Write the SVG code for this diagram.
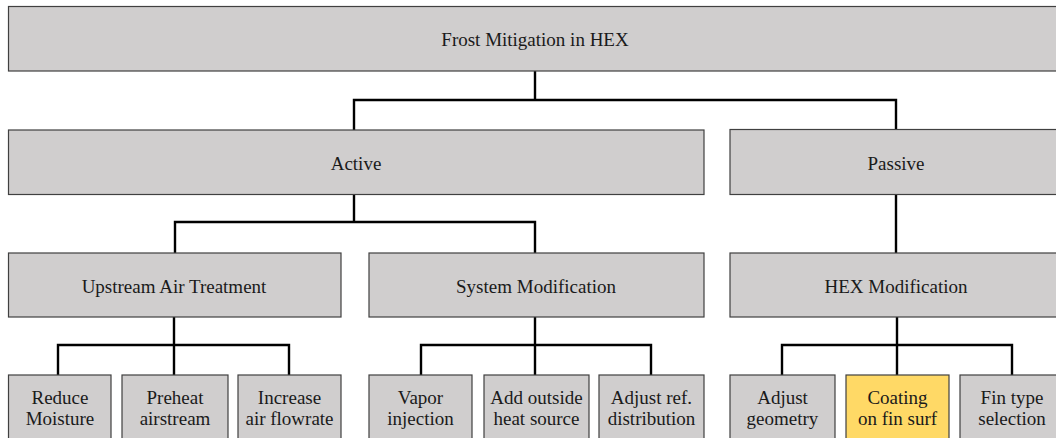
<svg xmlns="http://www.w3.org/2000/svg" width="1056" height="438" viewBox="0 0 1056 438">
<style>
.box{fill:#D0CECE;stroke:#404040;stroke-width:1.2}
.hl{fill:#FFD966;stroke:#404040;stroke-width:1.2}
.t{font-family:"Liberation Serif","Times New Roman",serif;font-size:19px;fill:#1a1a1a;text-anchor:middle}
.c{fill:none;stroke:#000;stroke-width:2.4;stroke-linejoin:miter;stroke-linecap:square}
</style>
<rect width="1056" height="438" fill="#fff"/>
<g id="connectors">
<path class="c" d="M535 71V100M354 100H896M354 100V130M896 100V129"/>
<path class="c" d="M354 195V222M175 222H535M175 222V253M535 222V253"/>
<path class="c" d="M896 195V253"/>
<path class="c" d="M174 317V345M58 345H289M58 345V375M174 345V375M289 345V375"/>
<path class="c" d="M535 317V345M421 345H651M421 345V375M535 345V375M651 345V375"/>
<path class="c" d="M897 317V345M782 345H1012M782 345V375M897 345V375M1012 345V375"/>
</g>
<g id="n-root"><rect class="box" x="8.5" y="6.5" width="1054" height="64.5"/><text class="t" x="535" y="46">Frost Mitigation in HEX</text></g>
<g id="n-active"><rect class="box" x="8.5" y="130" width="695.5" height="64.5"/><text class="t" x="356" y="170">Active</text></g>
<g id="n-passive"><rect class="box" x="730" y="129.5" width="332" height="65"/><text class="t" x="896" y="170">Passive</text></g>
<g id="n-upstream"><rect class="box" x="8.5" y="253" width="332.5" height="64"/><text class="t" x="174" y="293">Upstream Air Treatment</text></g>
<g id="n-system"><rect class="box" x="369" y="253" width="335" height="64"/><text class="t" x="536" y="293">System Modification</text></g>
<g id="n-hexmod"><rect class="box" x="730" y="253" width="332" height="64"/><text class="t" x="896" y="293">HEX Modification</text></g>
<g id="n-reduce"><rect class="box" x="8.5" y="375" width="102.5" height="70"/><text class="t" x="60" y="404">Reduce</text><text class="t" x="60" y="425">Moisture</text></g>
<g id="n-preheat"><rect class="box" x="122" y="375" width="106" height="70"/><text class="t" x="175" y="404">Preheat</text><text class="t" x="175" y="425">airstream</text></g>
<g id="n-increase"><rect class="box" x="238" y="375" width="103" height="70"/><text class="t" x="289.5" y="404">Increase</text><text class="t" x="289.5" y="425">air flowrate</text></g>
<g id="n-vapor"><rect class="box" x="369" y="375" width="103" height="70"/><text class="t" x="420.5" y="404">Vapor</text><text class="t" x="420.5" y="425">injection</text></g>
<g id="n-outside"><rect class="box" x="484" y="375" width="105" height="70"/><text class="t" x="536.5" y="404">Add outside</text><text class="t" x="536.5" y="425">heat source</text></g>
<g id="n-adjustref"><rect class="box" x="599" y="375" width="105" height="70"/><text class="t" x="651.5" y="404">Adjust ref.</text><text class="t" x="651.5" y="425">distribution</text></g>
<g id="n-geometry"><rect class="box" x="730" y="375" width="105" height="70"/><text class="t" x="782.5" y="404">Adjust</text><text class="t" x="782.5" y="425">geometry</text></g>
<g id="n-coating"><rect class="hl" x="846" y="375" width="103" height="70"/><text class="t" x="897.5" y="404">Coating</text><text class="t" x="897.5" y="425">on fin surf</text></g>
<g id="n-fintype"><rect class="box" x="960" y="375" width="104" height="70"/><text class="t" x="1012" y="404">Fin type</text><text class="t" x="1012" y="425">selection</text></g>
</svg>
